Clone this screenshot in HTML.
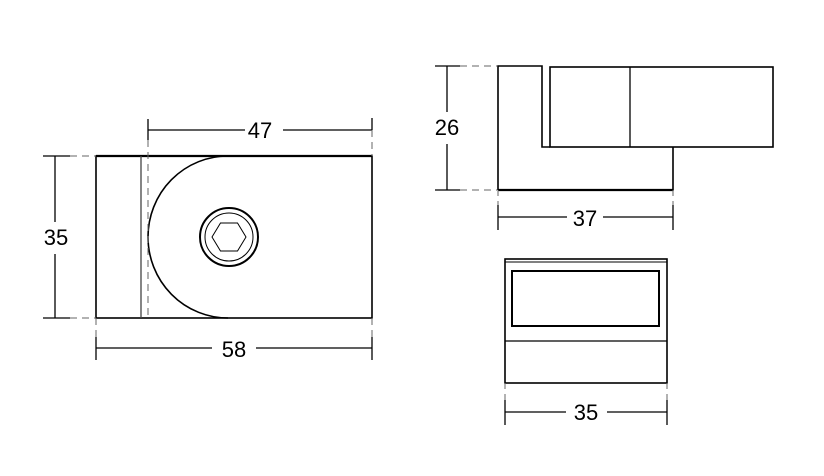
<!DOCTYPE html>
<html><head><style>html,body{margin:0;padding:0;background:#fff}svg{display:block}</style></head>
<body>
<svg width="824" height="476" viewBox="0 0 824 476" xmlns="http://www.w3.org/2000/svg" font-family="Liberation Sans, sans-serif" font-size="22" fill="none" stroke="#000">
<!-- left view -->
<rect x="96" y="156" width="276" height="162" stroke-width="1.6"/>
<line x1="96" y1="156" x2="372" y2="156" stroke-width="2.2"/>
<line x1="141" y1="156" x2="141" y2="318" stroke="#444" stroke-width="1.3"/>
<path d="M228 156 A80 81 0 0 0 228 318" stroke-width="1.6"/>
<circle cx="229" cy="237" r="29" stroke-width="2"/>
<circle cx="229" cy="237" r="24" stroke-width="1"/>
<polygon points="212,237 220.5,223 237.5,223 246,237 237.5,251 220.5,251" stroke-width="1"/>
<!-- dim 47 -->
<line x1="148" y1="130" x2="245" y2="130" stroke-width="1.3"/>
<line x1="283" y1="130" x2="372" y2="130" stroke-width="1.3"/>
<line x1="148" y1="119" x2="148" y2="140" stroke-width="1.3"/>
<line x1="148" y1="140" x2="148" y2="320" stroke-width="1" stroke-dasharray="7,5" stroke="#666"/>
<line x1="372" y1="118" x2="372" y2="156" stroke-width="1" stroke-dasharray="7,5" stroke="#666"/>
<line x1="372" y1="118" x2="372" y2="130" stroke-width="1.3"/>
<text x="260" y="138" fill="#000" stroke="none" text-anchor="middle">47</text>
<!-- dim 35 -->
<line x1="55" y1="156" x2="55" y2="222" stroke-width="1.3"/>
<line x1="55" y1="254" x2="55" y2="318" stroke-width="1.3"/>
<line x1="43" y1="156" x2="70" y2="156" stroke-width="1.3"/>
<line x1="43" y1="318" x2="70" y2="318" stroke-width="1.3"/>
<line x1="70" y1="156" x2="96" y2="156" stroke-width="1" stroke-dasharray="7,5" stroke="#666"/>
<line x1="70" y1="318" x2="96" y2="318" stroke-width="1" stroke-dasharray="7,5" stroke="#666"/>
<text x="56" y="245" fill="#000" stroke="none" text-anchor="middle">35</text>
<!-- dim 58 -->
<line x1="96" y1="348" x2="212" y2="348" stroke-width="1.3"/>
<line x1="256" y1="348" x2="372" y2="348" stroke-width="1.3"/>
<line x1="96" y1="318" x2="96" y2="337" stroke-width="1" stroke-dasharray="7,5" stroke="#666"/>
<line x1="372" y1="318" x2="372" y2="337" stroke-width="1" stroke-dasharray="7,5" stroke="#666"/>
<line x1="96" y1="337" x2="96" y2="360" stroke-width="1.3"/>
<line x1="372" y1="337" x2="372" y2="360" stroke-width="1.3"/>
<text x="234" y="357" fill="#000" stroke="none" text-anchor="middle">58</text>
<!-- side view -->
<polyline points="498,190 498,66 542,66 542,147 550,147" stroke-width="1.6"/>
<polyline points="673,147 673,190 498,190" stroke-width="1.6"/>
<line x1="498" y1="190" x2="673" y2="190" stroke-width="2.2"/>
<rect x="550" y="67" width="223" height="80" stroke-width="1.6"/>
<line x1="630" y1="67" x2="630" y2="147" stroke-width="1.3"/>
<!-- dim 26 -->
<line x1="447" y1="66" x2="447" y2="112" stroke-width="1.3"/>
<line x1="447" y1="144" x2="447" y2="190" stroke-width="1.3"/>
<line x1="435" y1="66" x2="460" y2="66" stroke-width="1.3"/>
<line x1="435" y1="190" x2="460" y2="190" stroke-width="1.3"/>
<line x1="460" y1="66" x2="497" y2="66" stroke-width="1" stroke-dasharray="7,5" stroke="#666"/>
<line x1="460" y1="190" x2="497" y2="190" stroke-width="1" stroke-dasharray="7,5" stroke="#666"/>
<text x="447" y="135" fill="#000" stroke="none" text-anchor="middle">26</text>
<!-- dim 37 -->
<line x1="498" y1="217" x2="567" y2="217" stroke-width="1.3"/>
<line x1="603" y1="217" x2="673" y2="217" stroke-width="1.3"/>
<line x1="498" y1="190" x2="498" y2="205" stroke-width="1" stroke-dasharray="6,5" stroke="#666"/>
<line x1="673" y1="190" x2="673" y2="205" stroke-width="1" stroke-dasharray="6,5" stroke="#666"/>
<line x1="498" y1="205" x2="498" y2="230" stroke-width="1.3"/>
<line x1="673" y1="205" x2="673" y2="230" stroke-width="1.3"/>
<text x="585" y="226" fill="#000" stroke="none" text-anchor="middle">37</text>
<!-- front view -->
<rect x="505" y="259" width="162" height="124" stroke-width="1.6"/>
<line x1="505" y1="262" x2="667" y2="262" stroke-width="1"/>
<rect x="512" y="271" width="147" height="55" stroke-width="2"/>
<line x1="505" y1="341" x2="667" y2="341" stroke-width="1.3"/>
<!-- dim 35 -->
<line x1="505" y1="412" x2="566" y2="412" stroke-width="1.3"/>
<line x1="607" y1="412" x2="667" y2="412" stroke-width="1.3"/>
<line x1="505" y1="383" x2="505" y2="400" stroke-width="1" stroke-dasharray="6,5" stroke="#666"/>
<line x1="667" y1="383" x2="667" y2="400" stroke-width="1" stroke-dasharray="6,5" stroke="#666"/>
<line x1="505" y1="400" x2="505" y2="425" stroke-width="1.3"/>
<line x1="667" y1="400" x2="667" y2="425" stroke-width="1.3"/>
<text x="586" y="420" fill="#000" stroke="none" text-anchor="middle">35</text>
</svg>
</body></html>
